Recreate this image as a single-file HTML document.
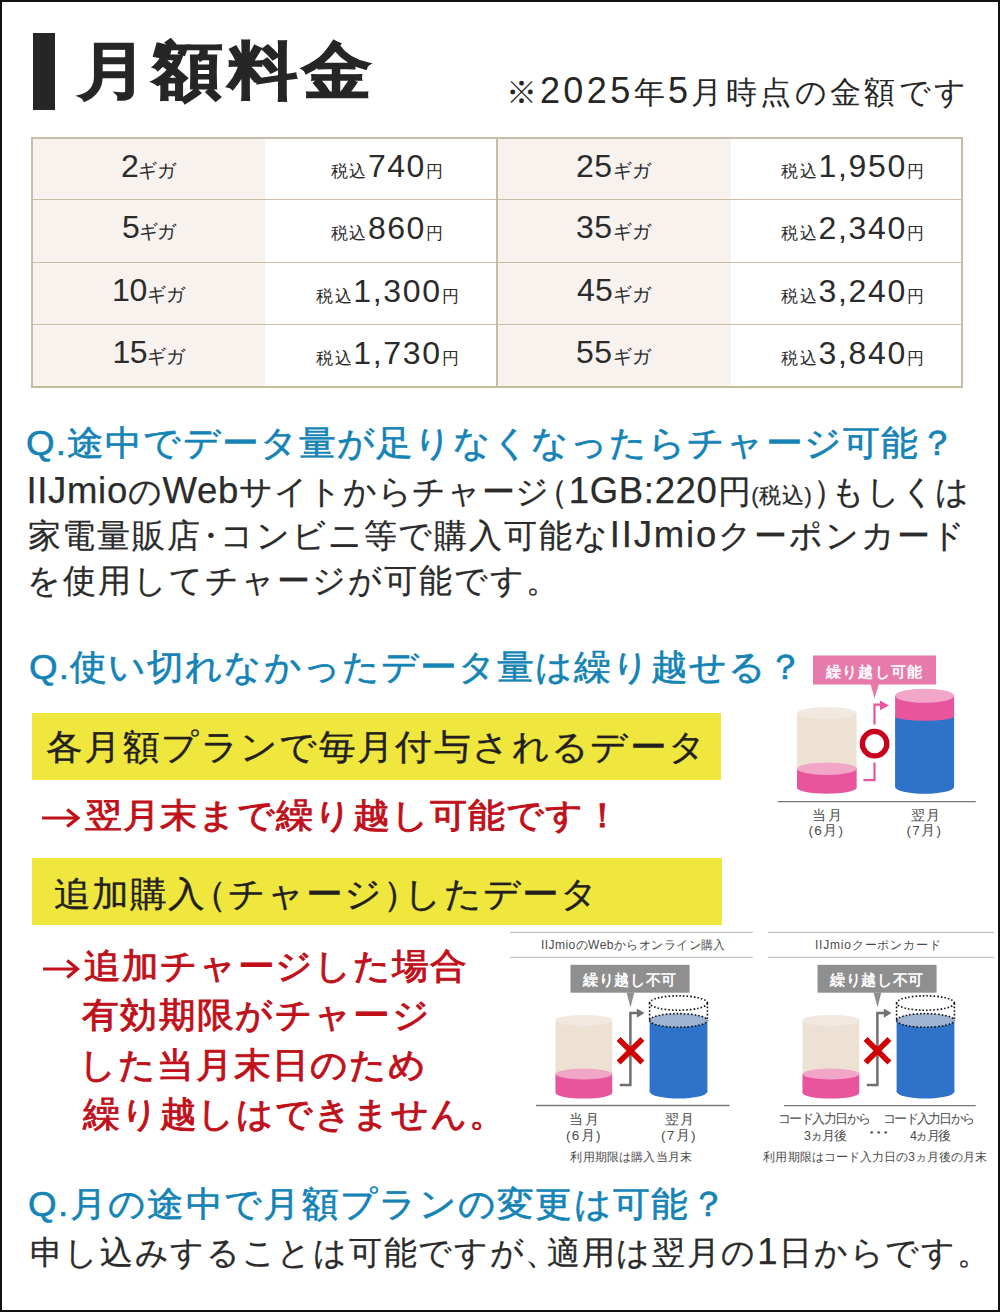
<!DOCTYPE html>
<html lang="ja">
<head>
<meta charset="utf-8">
<style>
html,body{margin:0;padding:0;}
body{width:1000px;height:1312px;position:relative;overflow:hidden;background:#fff;font-family:"Liberation Sans",sans-serif;color:#262626;}
.frame{position:absolute;left:0;top:0;width:1000px;height:1312px;box-sizing:border-box;border:2px solid #111;}
.t{position:absolute;white-space:nowrap;line-height:1;}
.bar{position:absolute;left:33px;top:33px;width:22px;height:77px;background:#262626;}
.q{color:#1483b6;-webkit-text-stroke:0.6px #1483b6;}
.b{color:#2b2b2b;-webkit-text-stroke:0.25px #2b2b2b;}
.r{color:#c0101a;-webkit-text-stroke:0.9px #c0101a;}
.y{color:#231f20;-webkit-text-stroke:0.35px #231f20;}
.yb{position:absolute;background:#efe73d;}
.cell{position:absolute;}
.hl{position:absolute;background:#c9bca8;}
.c{color:#2b2b2b;}
.dl{color:#4a4a4a;}
.w{color:#fff;font-weight:700;}
</style>
</head>
<body>
<div class="frame"></div>
<div class="bar"></div>
<div class="cell" style="left:33px;top:139px;width:232px;height:247px;background:#f7f2ee;"></div>
<div class="cell" style="left:498px;top:139px;width:233px;height:247px;background:#f7f2ee;"></div>
<div class="hl" style="left:31px;top:137px;width:932px;height:2px;"></div>
<div class="hl" style="left:31px;top:386px;width:932px;height:2px;background:#c4bc98;"></div>
<div class="hl" style="left:31px;top:137px;width:2px;height:251px;"></div>
<div class="hl" style="left:496px;top:137px;width:2px;height:251px;"></div>
<div class="hl" style="left:961px;top:137px;width:2px;height:251px;"></div>
<div class="hl" style="left:33px;top:199px;width:928px;height:1px;"></div>
<div class="hl" style="left:33px;top:262px;width:928px;height:1px;"></div>
<div class="hl" style="left:33px;top:324px;width:928px;height:1px;"></div>
<div class="yb" style="left:32px;top:713px;width:689px;height:67px;"></div>
<div class="yb" style="left:32px;top:858px;width:690px;height:67px;"></div>
<svg style="position:absolute;left:0;top:0" width="1000" height="1312" viewBox="0 0 1000 1312">
<!-- diagram 1 -->
<g>
<rect x="813" y="655.5" width="123" height="29" fill="#e87aab"/>
<polygon points="870.5,684 879,684 874.5,698.5" fill="#e87aab"/>
<rect x="797" y="713" width="59.6" height="74.8" fill="#ece1d2"/>
<ellipse cx="826.8" cy="713" rx="29.8" ry="6" fill="#f1e9df"/>
<rect x="797" y="768.7" width="59.6" height="19.1" fill="#e8559c"/>
<ellipse cx="826.8" cy="787.8" rx="29.8" ry="6" fill="#e8559c"/>
<ellipse cx="826.8" cy="768.7" rx="29.8" ry="6.2" fill="#f2a6c7"/>
<rect x="895.1" y="716.5" width="59" height="70.5" fill="#2e72c9"/>
<ellipse cx="924.6" cy="787" rx="29.5" ry="6.8" fill="#2e72c9"/>
<rect x="895.1" y="695.8" width="59" height="20.7" fill="#e8559c"/>
<ellipse cx="924.6" cy="716.5" rx="29.5" ry="4.2" fill="#e8559c"/>
<ellipse cx="924.6" cy="695.8" rx="29.5" ry="7" fill="#f2a6c8"/>
<circle cx="874.6" cy="743.7" r="12.25" fill="none" stroke="#c8001e" stroke-width="5.3"/>
<path d="M863.5,780.2 H874.5 V762.4 M874.5,724.5 V704.6 H881" fill="none" stroke="#e8559c" stroke-width="2.2"/>
<polygon points="880,700.6 889,705.4 880,710.2" fill="#e8559c"/>
<line x1="777.7" y1="801.7" x2="975.7" y2="801.7" stroke="#777" stroke-width="1.3"/>
</g>
<!-- diagram 2 -->
<line x1="510.2" y1="932.3" x2="752.8" y2="932.3" stroke="#c2c2c2" stroke-width="1.3"/>
<line x1="510.2" y1="957.4" x2="752.8" y2="957.4" stroke="#c2c2c2" stroke-width="1.3"/>
<line x1="767.9" y1="932.3" x2="994" y2="932.3" stroke="#c2c2c2" stroke-width="1.3"/>
<line x1="767.9" y1="957.4" x2="994" y2="957.4" stroke="#c2c2c2" stroke-width="1.3"/>
<line x1="536" y1="1105.5" x2="729.5" y2="1105.5" stroke="#777" stroke-width="1.3"/>
<line x1="784" y1="1105.7" x2="975.6" y2="1105.7" stroke="#777" stroke-width="1.3"/>
<g>
<rect x="570.5" y="964.8" width="119.1" height="27.9" fill="#8f8f8f"/>
<polygon points="626.6,992.5 634.3,992.5 630.5,1007.6" fill="#8f8f8f"/>
<rect x="555.5" y="1020.5" width="56.7" height="72.4" fill="#ece1d2"/>
<ellipse cx="583.85" cy="1020.5" rx="28.35" ry="5.7" fill="#f1e9df"/>
<rect x="555.5" y="1074" width="56.7" height="18.9" fill="#e8559c"/>
<ellipse cx="583.85" cy="1092.9" rx="28.35" ry="5.7" fill="#e8559c"/>
<ellipse cx="583.85" cy="1074" rx="28.35" ry="5.4" fill="#f2a6c7"/>
<rect x="649.6" y="1020.4" width="57.8" height="71.2" fill="#2e72c9"/>
<ellipse cx="678.5" cy="1091.6" rx="28.9" ry="7" fill="#2e72c9"/>
<ellipse cx="678.5" cy="1020.4" rx="28.9" ry="6.8" fill="#9fb3d3"/>
<g fill="none" stroke="#111" stroke-width="1.6" stroke-dasharray="1.6 2">
<ellipse cx="678.5" cy="1003" rx="28.9" ry="7.2"/>
<path d="M649.6,1003 V1020.4 M707.4,1003 V1020.4"/>
<path d="M649.6,1020.4 A28.9,6.8 0 0 1 707.4,1020.4"/>
<path d="M649.6,1020.4 A28.9,6.8 0 0 0 707.4,1020.4"/>
</g>
<path d="M619.8,1085 H630.4 V1013.1 H637.5" fill="none" stroke="#707070" stroke-width="2.5"/>
<polygon points="636.8,1008.5 644.5,1013.1 636.8,1017.8" fill="#707070"/>
<path d="M618.6,1039 L642.4,1062.6 M642.4,1039 L618.6,1062.6" stroke="#d00000" stroke-width="5.6"/>
</g>
<g transform="translate(247,0)">
<rect x="570.5" y="964.8" width="119.1" height="27.9" fill="#8f8f8f"/>
<polygon points="626.6,992.5 634.3,992.5 630.5,1007.6" fill="#8f8f8f"/>
<rect x="555.5" y="1020.5" width="56.7" height="72.4" fill="#ece1d2"/>
<ellipse cx="583.85" cy="1020.5" rx="28.35" ry="5.7" fill="#f1e9df"/>
<rect x="555.5" y="1074" width="56.7" height="18.9" fill="#e8559c"/>
<ellipse cx="583.85" cy="1092.9" rx="28.35" ry="5.7" fill="#e8559c"/>
<ellipse cx="583.85" cy="1074" rx="28.35" ry="5.4" fill="#f2a6c7"/>
<rect x="649.6" y="1020.4" width="57.8" height="71.2" fill="#2e72c9"/>
<ellipse cx="678.5" cy="1091.6" rx="28.9" ry="7" fill="#2e72c9"/>
<ellipse cx="678.5" cy="1020.4" rx="28.9" ry="6.8" fill="#9fb3d3"/>
<g fill="none" stroke="#111" stroke-width="1.6" stroke-dasharray="1.6 2">
<ellipse cx="678.5" cy="1003" rx="28.9" ry="7.2"/>
<path d="M649.6,1003 V1020.4 M707.4,1003 V1020.4"/>
<path d="M649.6,1020.4 A28.9,6.8 0 0 1 707.4,1020.4"/>
<path d="M649.6,1020.4 A28.9,6.8 0 0 0 707.4,1020.4"/>
</g>
<path d="M619.8,1085 H630.4 V1013.1 H637.5" fill="none" stroke="#707070" stroke-width="2.5"/>
<polygon points="636.8,1008.5 644.5,1013.1 636.8,1017.8" fill="#707070"/>
<path d="M618.6,1039 L642.4,1062.6 M642.4,1039 L618.6,1062.6" stroke="#d00000" stroke-width="5.6"/>
</g>

</svg>

<div class="t " id="title" style="left:78.00px;top:40.25px;font-size:62.00px;letter-spacing:4.762px;transform:scaleX(1.1200);transform-origin:0 0;font-weight:700;color:#262626;-webkit-text-stroke:1.4px #262626;">月額料金</div>
<div class="t " id="sub" style="left:505.50px;top:73.00px;font-size:31.00px;letter-spacing:3.393px;color:#262626;">※<span style="font-size:36px">2025</span>年<span style="font-size:36px">5</span>月時点の金額です</div>
<div class="t c" id="g1" style="left:121.00px;top:149.80px;font-size:32.00px;letter-spacing:-0.550px;"><span style="font-size:32px">2</span><span style="font-size:19px">ギガ</span></div>
<div class="t c" id="g2" style="left:122.00px;top:211.20px;font-size:32.00px;letter-spacing:-1.050px;"><span style="font-size:32px">5</span><span style="font-size:19px">ギガ</span></div>
<div class="t c" id="g3" style="left:112.00px;top:273.60px;font-size:32.00px;letter-spacing:-0.333px;"><span style="font-size:32px">10</span><span style="font-size:19px">ギガ</span></div>
<div class="t c" id="g4" style="left:112.60px;top:336.00px;font-size:32.00px;letter-spacing:-0.533px;"><span style="font-size:32px">15</span><span style="font-size:19px">ギガ</span></div>
<div class="t c" id="g5" style="left:576.00px;top:149.80px;font-size:32.00px;letter-spacing:0.500px;"><span style="font-size:32px">25</span><span style="font-size:19px">ギガ</span></div>
<div class="t c" id="g6" style="left:576.00px;top:211.20px;font-size:32.00px;letter-spacing:0.500px;"><span style="font-size:32px">35</span><span style="font-size:19px">ギガ</span></div>
<div class="t c" id="g7" style="left:577.00px;top:273.60px;font-size:32.00px;letter-spacing:0.167px;"><span style="font-size:32px">45</span><span style="font-size:19px">ギガ</span></div>
<div class="t c" id="g8" style="left:576.00px;top:336.00px;font-size:32.00px;letter-spacing:0.500px;"><span style="font-size:32px">55</span><span style="font-size:19px">ギガ</span></div>
<div class="t c" id="p1" style="left:330.80px;top:150.00px;font-size:32.00px;letter-spacing:1.540px;"><span style="font-size:17px">税込</span><span style="font-size:32px">740</span><span style="font-size:17px">円</span></div>
<div class="t c" id="p2" style="left:330.80px;top:212.40px;font-size:32.00px;letter-spacing:1.540px;"><span style="font-size:17px">税込</span><span style="font-size:32px">860</span><span style="font-size:17px">円</span></div>
<div class="t c" id="p3" style="left:316.00px;top:274.80px;font-size:32.00px;letter-spacing:1.643px;"><span style="font-size:17px">税込</span><span style="font-size:32px">1,300</span><span style="font-size:17px">円</span></div>
<div class="t c" id="p4" style="left:316.00px;top:337.20px;font-size:32.00px;letter-spacing:1.643px;"><span style="font-size:17px">税込</span><span style="font-size:32px">1,730</span><span style="font-size:17px">円</span></div>
<div class="t c" id="p5" style="left:781.00px;top:150.00px;font-size:32.00px;letter-spacing:1.714px;"><span style="font-size:17px">税込</span><span style="font-size:32px">1,950</span><span style="font-size:17px">円</span></div>
<div class="t c" id="p6" style="left:781.00px;top:212.40px;font-size:32.00px;letter-spacing:1.714px;"><span style="font-size:17px">税込</span><span style="font-size:32px">2,340</span><span style="font-size:17px">円</span></div>
<div class="t c" id="p7" style="left:781.00px;top:274.80px;font-size:32.00px;letter-spacing:1.714px;"><span style="font-size:17px">税込</span><span style="font-size:32px">3,240</span><span style="font-size:17px">円</span></div>
<div class="t c" id="p8" style="left:781.00px;top:337.20px;font-size:32.00px;letter-spacing:1.714px;"><span style="font-size:17px">税込</span><span style="font-size:32px">3,840</span><span style="font-size:17px">円</span></div>
<div class="t q" id="q1" style="left:25.75px;top:424.50px;font-size:35.00px;letter-spacing:1.220px;transform:scaleX(1.0500);transform-origin:0 0;">Q.途中でデータ量が足りなくなったらチャージ可能？</div>
<div class="t b" id="b1" style="left:26.50px;top:473.00px;font-size:33.00px;letter-spacing:0.667px;"><span style="font-size:36.5px">IIJmio</span>の<span style="font-size:36.5px">Web</span>サイトからチャージ<span style="margin-left:-0.45em">（</span><span style="font-size:36.5px">1GB:220</span>円<span style="font-size:22px">(税込)</span><span style="margin-right:-0.45em">）</span>もしくは</div>
<div class="t b" id="b2" style="left:27.50px;top:517.00px;font-size:33.00px;letter-spacing:1.862px;">家電量販店<span style="margin:0 -0.25em">・</span>コンビニ等で購入可能な<span style="font-size:36.5px">IIJmio</span>クーポンカード</div>
<div class="t b" id="b3" style="left:26.50px;top:563.50px;font-size:33.00px;letter-spacing:2.064px;">を使用してチャージが可能です。</div>
<div class="t q" id="q2" style="left:28.50px;top:649.00px;font-size:35.00px;letter-spacing:1.205px;transform:scaleX(1.0500);transform-origin:0 0;">Q.使い切れなかったデータ量は繰り越せる？</div>
<div class="t y" id="y1" style="left:46.20px;top:729.00px;font-size:35.00px;letter-spacing:1.536px;transform:scaleX(1.0500);transform-origin:0 0;">各月額プランで毎月付与されるデータ</div>
<div class="t r" id="r0" style="left:41.00px;top:798.50px;font-size:33.50px;letter-spacing:0.786px;transform:scaleX(1.0900);transform-origin:0 0;"><svg width="36" height="20" viewBox="0 0 36 20" style="vertical-align:-1px;margin-right:4px"><path d="M1,10 H33 M24,1.5 L34,10 L24,18.5" fill="none" stroke="#c0101a" stroke-width="3"/></svg>翌月末まで繰り越し可能です！</div>
<div class="t y" id="y2" style="left:54.00px;top:875.50px;font-size:35.00px;letter-spacing:1.224px;transform:scaleX(1.0500);transform-origin:0 0;">追加購入<span style="margin-left:-0.45em">（</span>チャージ<span style="margin-right:-0.45em">）</span>したデータ</div>
<div class="t r" id="r1" style="left:42.20px;top:949.00px;font-size:34.50px;letter-spacing:1.057px;transform:scaleX(1.0500);transform-origin:0 0;"><svg width="36" height="20" viewBox="0 0 36 20" style="vertical-align:-1px;margin-right:4px"><path d="M1,10 H33 M24,1.5 L34,10 L24,18.5" fill="none" stroke="#c0101a" stroke-width="3"/></svg>追加チャージした場合</div>
<div class="t r" id="r2" style="left:81.50px;top:998.00px;font-size:34.50px;letter-spacing:1.500px;transform:scaleX(1.0500);transform-origin:0 0;">有効期限がチャージ</div>
<div class="t r" id="r3" style="left:79.40px;top:1047.50px;font-size:34.50px;letter-spacing:1.333px;transform:scaleX(1.0500);transform-origin:0 0;">した当月末日のため</div>
<div class="t r" id="r4" style="left:82.50px;top:1097.00px;font-size:34.50px;letter-spacing:0.943px;transform:scaleX(1.0500);transform-origin:0 0;">繰り越しはできません。</div>
<div class="t q" id="q3" style="left:27.50px;top:1186.00px;font-size:35.00px;letter-spacing:1.455px;transform:scaleX(1.0500);transform-origin:0 0;">Q.月の途中で月額プランの変更は可能？</div>
<div class="t b" id="b4" style="left:29.50px;top:1233.50px;font-size:33.00px;letter-spacing:1.704px;">申し込みすることは可能ですが<span style="margin-right:-0.4em">、</span>適用は翌月の<span style="font-size:36.5px">1</span>日からです。</div>
<div class="t w" id="l1" style="left:826.00px;top:664.50px;font-size:14.50px;letter-spacing:1.240px;">繰り越し可能</div>
<div class="t w" id="l2" style="left:582.90px;top:973.00px;font-size:14.50px;letter-spacing:0.700px;">繰り越し不可</div>
<div class="t w" id="l3" style="left:829.90px;top:973.00px;font-size:14.50px;letter-spacing:0.700px;">繰り越し不可</div>
<div class="t dl" id="d1a" style="left:811.50px;top:808.60px;font-size:13.50px;letter-spacing:2.000px;">当月</div>
<div class="t dl" id="d1b" style="left:808.50px;top:824.20px;font-size:13.50px;letter-spacing:1.333px;">(6月)</div>
<div class="t dl" id="d1c" style="left:910.50px;top:808.60px;font-size:13.50px;letter-spacing:1.000px;">翌月</div>
<div class="t dl" id="d1d" style="left:906.50px;top:824.20px;font-size:13.50px;letter-spacing:1.333px;">(7月)</div>
<div class="t dl" id="d2t" style="left:541.00px;top:939.45px;font-size:12.00px;letter-spacing:0.444px;">IIJmioのWebからオンライン購入</div>
<div class="t dl" id="d3t" style="left:814.90px;top:938.80px;font-size:12.00px;letter-spacing:0.825px;">IIJmioクーポンカード</div>
<div class="t dl" id="d2a" style="left:569.00px;top:1113.25px;font-size:13.50px;letter-spacing:2.400px;">当月</div>
<div class="t dl" id="d2b" style="left:566.00px;top:1128.50px;font-size:13.50px;letter-spacing:1.333px;">(6月)</div>
<div class="t dl" id="d2c" style="left:665.00px;top:1113.25px;font-size:13.50px;letter-spacing:1.400px;">翌月</div>
<div class="t dl" id="d2d" style="left:661.00px;top:1128.50px;font-size:13.50px;letter-spacing:1.333px;">(7月)</div>
<div class="t dl" id="d2e" style="left:570.40px;top:1150.50px;font-size:12.00px;letter-spacing:0.178px;">利用期限は購入当月末</div>
<div class="t dl" id="d3a" style="left:777.50px;top:1113.15px;font-size:12.50px;letter-spacing:-1.500px;">コード入力日から</div>
<div class="t dl" id="d3b" style="left:804.00px;top:1129.50px;font-size:12.50px;letter-spacing:-0.967px;">3ヵ月後</div>
<div class="t dl" id="d3c" style="left:865.00px;top:1126.50px;font-size:12.50px;letter-spacing:-5.900px;font-weight:700;">・・・</div>
<div class="t dl" id="d3d" style="left:883.00px;top:1113.15px;font-size:12.50px;letter-spacing:-1.714px;">コード入力日から</div>
<div class="t dl" id="d3e" style="left:910.00px;top:1129.50px;font-size:12.50px;letter-spacing:-1.667px;">4ヵ月後</div>
<div class="t dl" id="d3f" style="left:763.40px;top:1151.00px;font-size:12.00px;letter-spacing:0.078px;">利用期限はコード入力日の3ヵ月後の月末</div>

<!-- diagram texts -->
</body>
</html>
